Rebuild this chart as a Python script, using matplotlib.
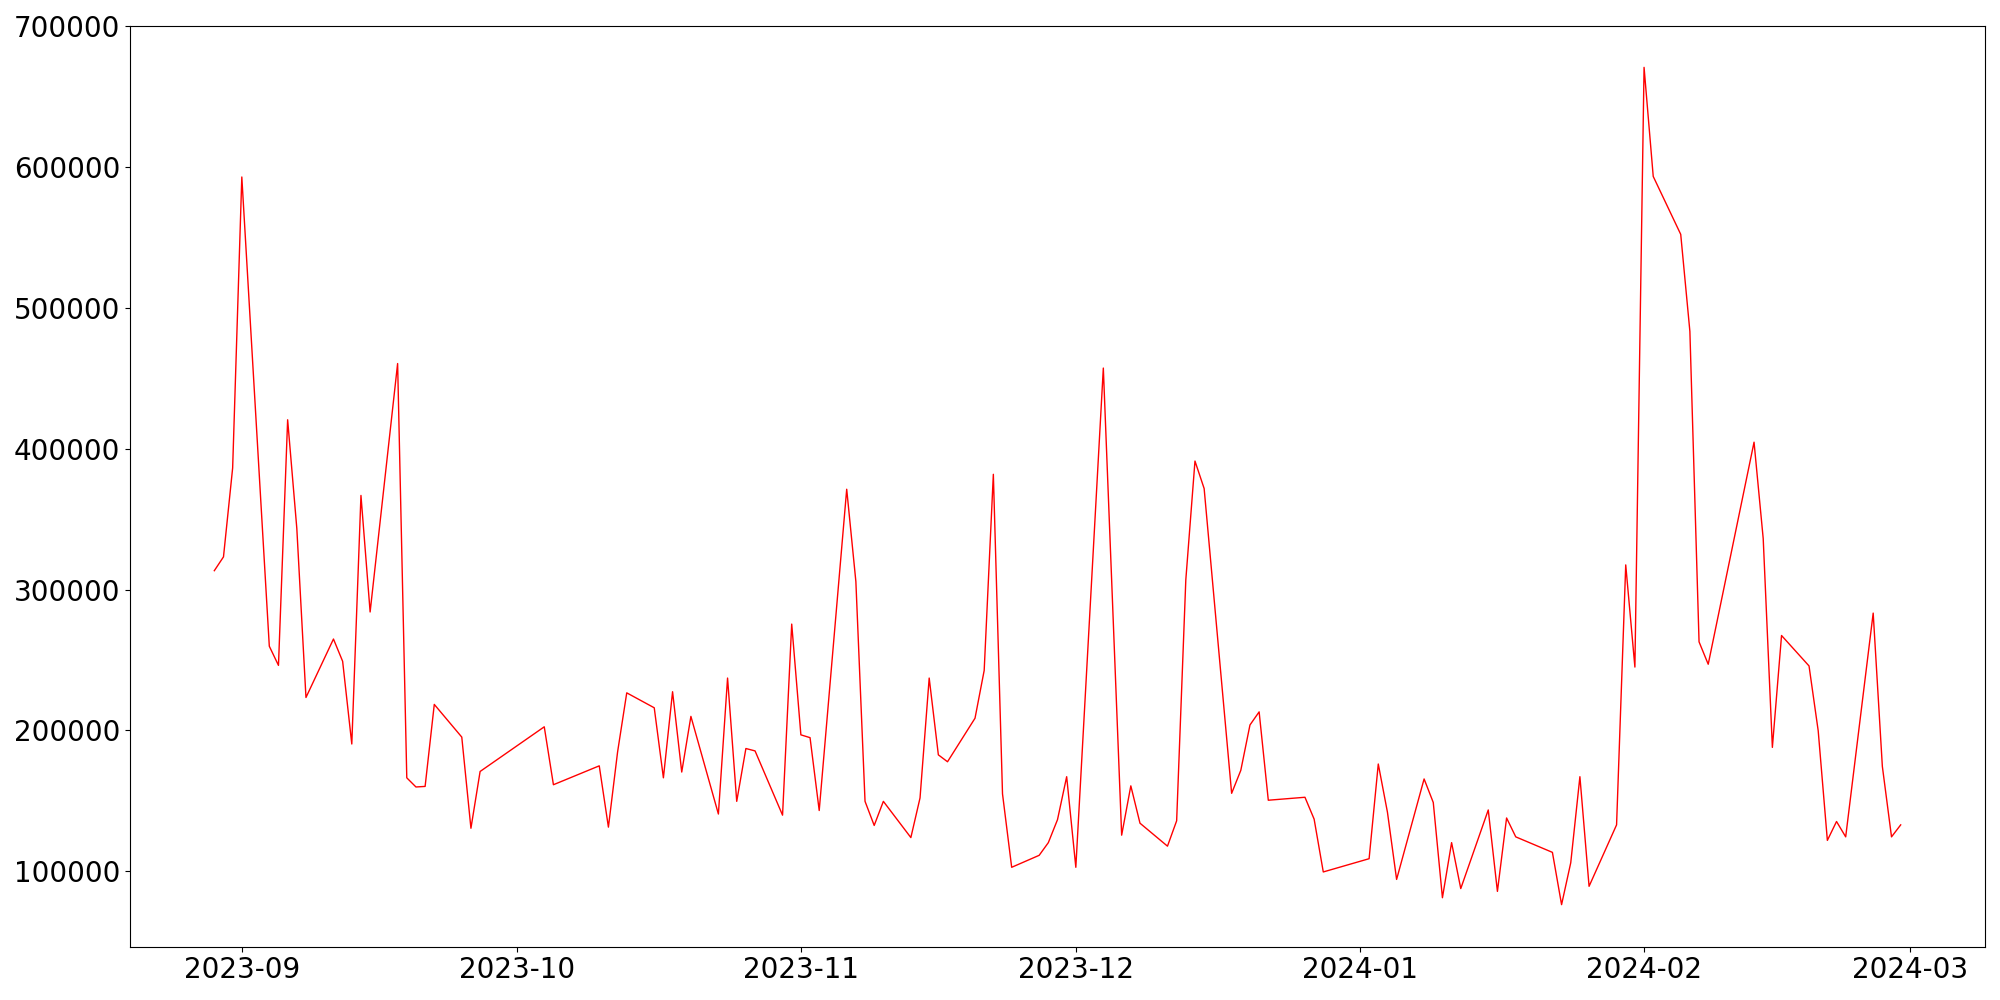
import matplotlib
matplotlib.use("Agg")
import matplotlib.pyplot as plt
import pandas as pd

dates = [
    "2023-08-29", "2023-08-30", "2023-08-31", "2023-09-01",
    "2023-09-04", "2023-09-05", "2023-09-06", "2023-09-07", "2023-09-08",
    "2023-09-11", "2023-09-12", "2023-09-13", "2023-09-14", "2023-09-15",
    "2023-09-18", "2023-09-19", "2023-09-20", "2023-09-21", "2023-09-22",
    "2023-09-25", "2023-09-26", "2023-09-27",
    "2023-10-04", "2023-10-05",
    "2023-10-10", "2023-10-11", "2023-10-12", "2023-10-13",
    "2023-10-16", "2023-10-17", "2023-10-18", "2023-10-19", "2023-10-20",
    "2023-10-23", "2023-10-24", "2023-10-25", "2023-10-26", "2023-10-27",
    "2023-10-30", "2023-10-31", "2023-11-01", "2023-11-02", "2023-11-03",
    "2023-11-06", "2023-11-07", "2023-11-08", "2023-11-09", "2023-11-10",
    "2023-11-13", "2023-11-14", "2023-11-15", "2023-11-16", "2023-11-17",
    "2023-11-20", "2023-11-21", "2023-11-22", "2023-11-23", "2023-11-24",
    "2023-11-27", "2023-11-28", "2023-11-29", "2023-11-30", "2023-12-01",
    "2023-12-04", "2023-12-06", "2023-12-07", "2023-12-08",
    "2023-12-11", "2023-12-12", "2023-12-13", "2023-12-14", "2023-12-15",
    "2023-12-18", "2023-12-19", "2023-12-20", "2023-12-21", "2023-12-22",
    "2023-12-26", "2023-12-27", "2023-12-28",
    "2024-01-02", "2024-01-03", "2024-01-04", "2024-01-05",
    "2024-01-08", "2024-01-09", "2024-01-10", "2024-01-11", "2024-01-12",
    "2024-01-15", "2024-01-16", "2024-01-17", "2024-01-18",
    "2024-01-22", "2024-01-23", "2024-01-24", "2024-01-25", "2024-01-26",
    "2024-01-29", "2024-01-30", "2024-01-31", "2024-02-01", "2024-02-02",
    "2024-02-05", "2024-02-06", "2024-02-07", "2024-02-08",
    "2024-02-13", "2024-02-14", "2024-02-15", "2024-02-16",
    "2024-02-19", "2024-02-20", "2024-02-21", "2024-02-22", "2024-02-23",
    "2024-02-26", "2024-02-27", "2024-02-28", "2024-02-29",
]

values = [
    313400, 323200, 386300, 592800,
    259800, 246200, 420500, 343500, 223400,
    264900, 249100, 190400, 366800, 284100,
    460400, 166400, 159900, 160300, 218500,
    195300, 130600, 170900,
    202600, 161500,
    174900, 131400, 184700, 226700,
    216100, 166400, 227500, 170500, 210000,
    140700, 237200, 149700, 187200, 185500,
    139900, 275500, 196900, 194900, 143200,
    371200, 305700, 149700, 132600, 149700,
    124000, 152100, 237200, 182700, 177800,
    208700, 242600, 381800, 155000, 102900,
    111400, 120400, 136700, 167200, 102900,
    457200, 125700, 160700, 134200,
    117900, 135900, 306900, 391200, 371700,
    155400, 171700, 203900, 213200, 150500,
    152600, 137100, 99600,
    109000, 176200, 142000, 94300,
    165600, 148900, 81300, 120400, 87800,
    143600, 85800, 137900, 124500,
    113500, 76400, 106100, 167200, 89400,
    133000, 317500, 245000, 670600, 593200,
    552100, 483200, 262900, 247000,
    404600, 336200, 188000, 267400,
    245800, 199800, 122000, 135400, 124500,
    283300, 174500, 124500, 133000,
]

x = pd.to_datetime(dates)

fig = plt.figure(figsize=(20, 10), dpi=100)
ax = fig.add_subplot(111)
ax.plot(x, values, color="red", linewidth=1)
ax.tick_params(labelsize=20)
fig.subplots_adjust(left=0.065, right=0.9925, top=0.9745, bottom=0.0535)
fig.savefig("out.png")
